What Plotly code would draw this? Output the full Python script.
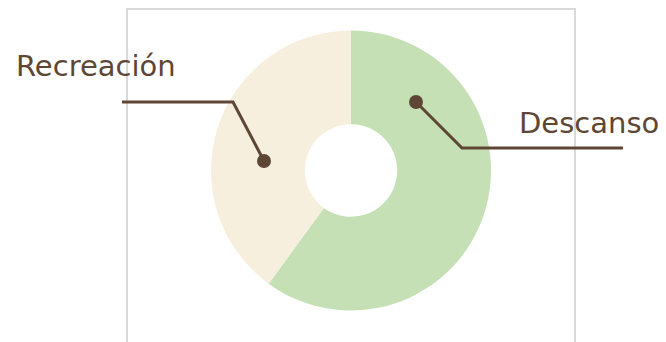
import plotly.graph_objects as go

categories = ["Descanso", "Recreación"]
values = [60, 40]
colors = ["#C5E0B4", "#F6EFDE"]

# the page body has an 8px margin, so the figure is drawn 8px in from the window edge
OFF = 8
W, H = 666 - OFF, 342 - OFF
BROWN = "#5E4634"

def px(x):
    return (x - OFF) / W

def py(y):
    return 1 - (y - OFF) / H

fig = go.Figure()
fig.add_trace(go.Pie(
    labels=categories, values=values, sort=False, direction="clockwise", rotation=0,
    hole=0.33, textinfo="none", hoverinfo="label+percent",
    marker=dict(colors=colors, line=dict(width=0)),
    domain=dict(x=[px(211), px(491)], y=[py(310.5), py(30.5)]),
    showlegend=False,
))

shapes = [
    # frame
    dict(type="rect", xref="paper", yref="paper", x0=px(127), x1=px(575), y0=py(8) - 0.003, y1=-0.2,
         line=dict(color="#D9D9D9", width=2), layer="below"),
    # Recreación callout
    dict(type="path", xref="paper", yref="paper",
         path=f"M {px(122)},{py(102)} L {px(233)},{py(102)} L {px(264)},{py(161)}",
         line=dict(color=BROWN, width=3)),
    dict(type="circle", xref="paper", yref="paper", x0=px(264-7), x1=px(264+7), y0=py(161+7), y1=py(161-7),
         fillcolor=BROWN, line=dict(width=0)),
    # Descanso callout
    dict(type="path", xref="paper", yref="paper",
         path=f"M {px(416)},{py(102)} L {px(462)},{py(148)} L {px(623)},{py(148)}",
         line=dict(color=BROWN, width=3)),
    dict(type="circle", xref="paper", yref="paper", x0=px(416-7), x1=px(416+7), y0=py(102+7), y1=py(102-7),
         fillcolor=BROWN, line=dict(width=0)),
]

annotations = [
    dict(text=categories[1], x=px(14), y=py(66), xref="paper", yref="paper", xanchor="left", yanchor="middle",
         showarrow=False, font=dict(family="DejaVu Sans", size=29, color=BROWN)),
    dict(text=categories[0], x=px(661), y=py(123), xref="paper", yref="paper", xanchor="right", yanchor="middle",
         showarrow=False, font=dict(family="DejaVu Sans", size=29, color=BROWN)),
]

fig.update_layout(
    width=W, height=H, margin=dict(l=0, r=0, t=0, b=0),
    paper_bgcolor="white", plot_bgcolor="white",
    shapes=shapes, annotations=annotations,
)

fig.write_html("out.html")
